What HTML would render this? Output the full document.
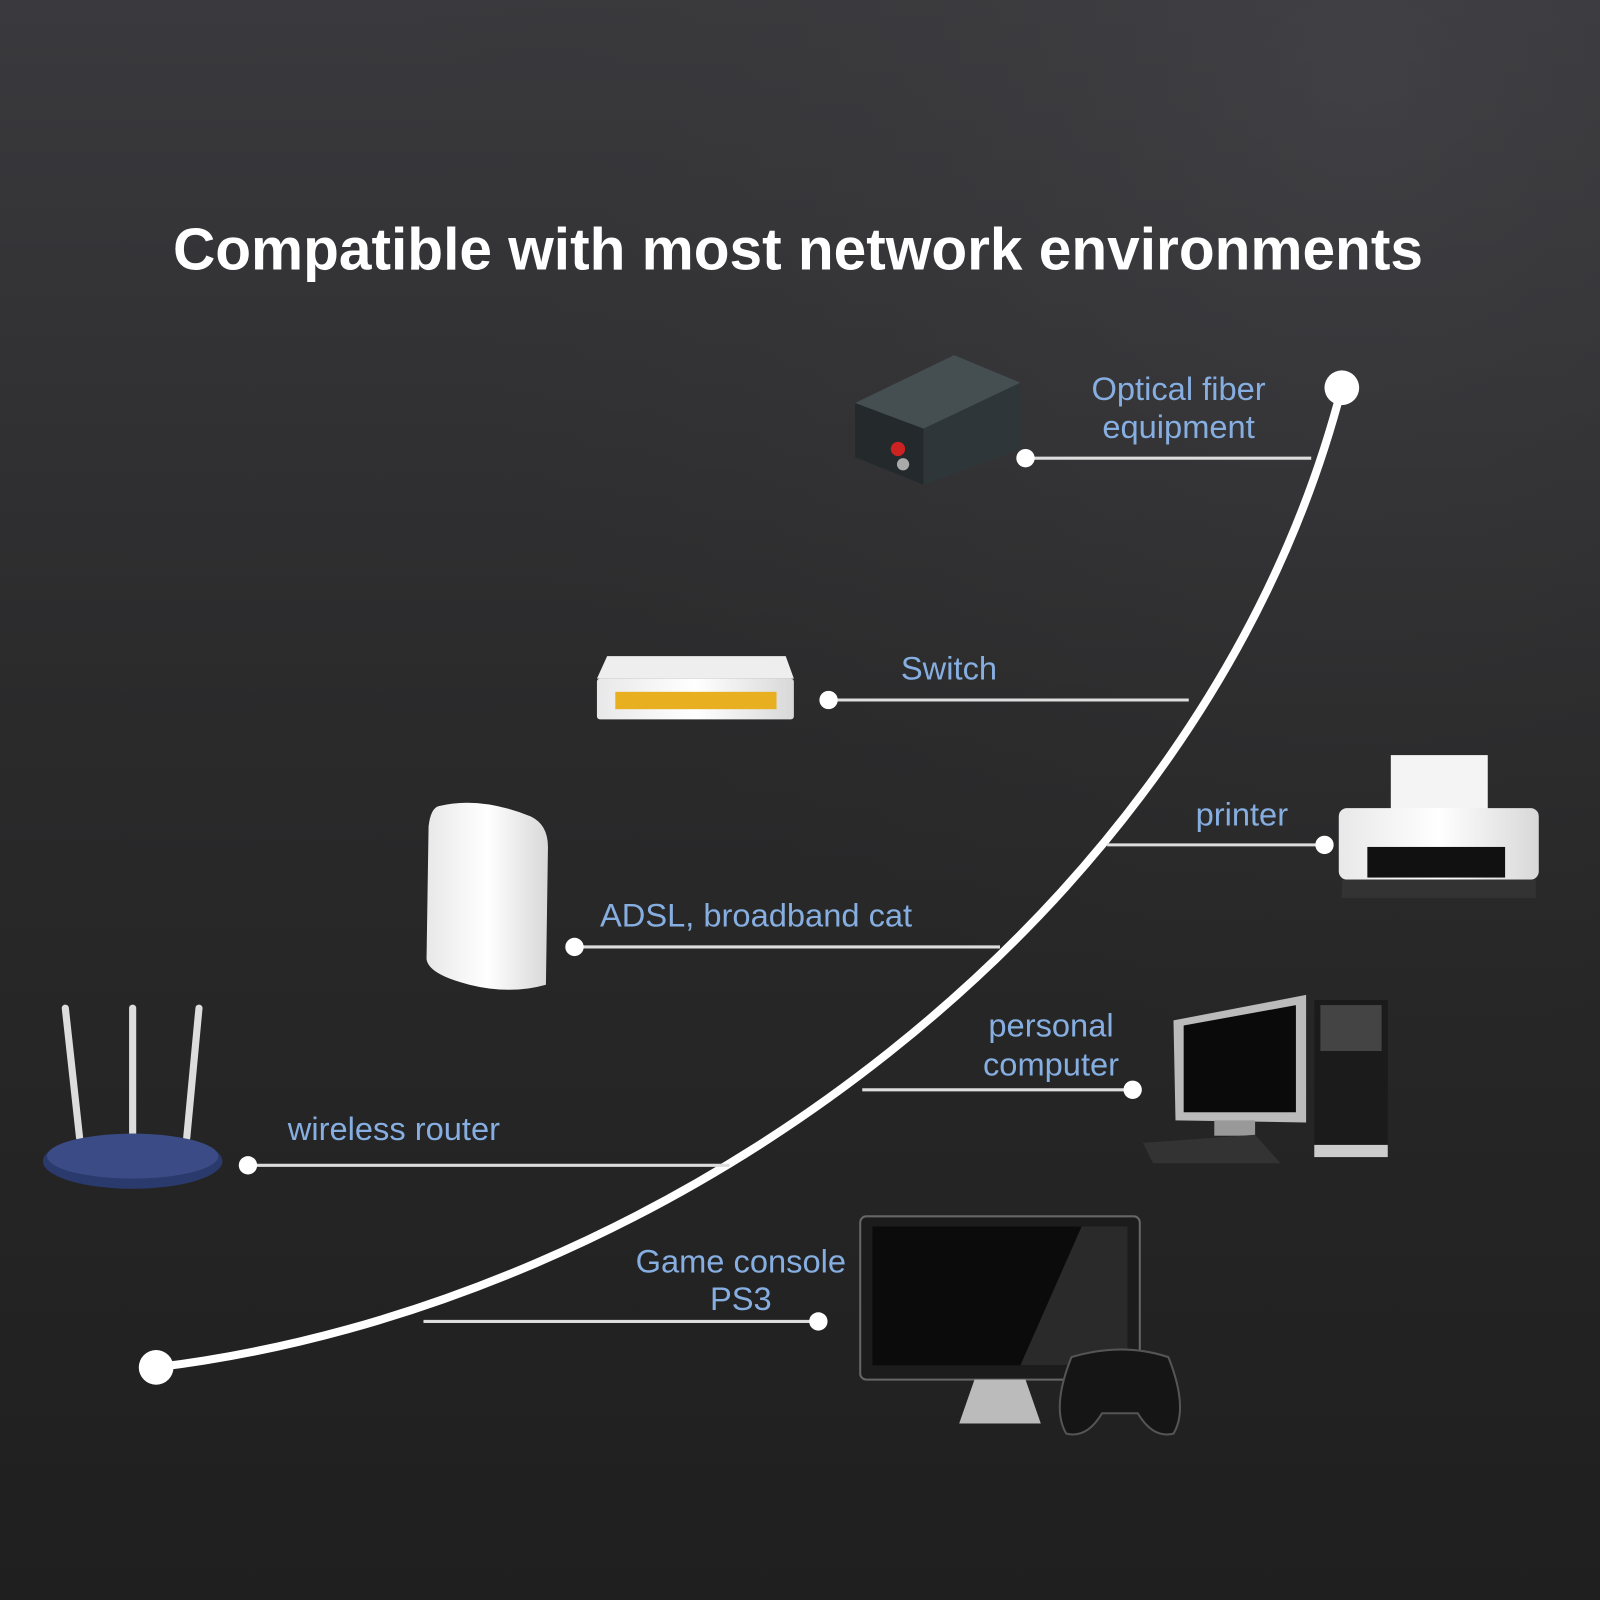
<!DOCTYPE html>
<html><head><meta charset="utf-8"><style>
html,body{margin:0;padding:0;background:#222;}
svg{display:block}
</style></head><body>
<svg width="1600" height="1600" viewBox="0 0 1568 1568" xmlns="http://www.w3.org/2000/svg">
<defs>
<linearGradient id="bg" x1="0" y1="0" x2="0" y2="1">
<stop offset="0" stop-color="#3a3a3e"/><stop offset="0.45" stop-color="#2a2a2b"/><stop offset="1" stop-color="#1f1f1f"/>
</linearGradient>
<radialGradient id="rg" cx="0.85" cy="0.05" r="0.6"><stop offset="0" stop-color="#45454a" stop-opacity="0.6"/><stop offset="1" stop-color="#333" stop-opacity="0"/></radialGradient>
<linearGradient id="wh" x1="0" y1="0" x2="1" y2="0"><stop offset="0" stop-color="#e8e8e8"/><stop offset="0.5" stop-color="#fff"/><stop offset="1" stop-color="#d8d8d8"/></linearGradient>
</defs>
<rect width="1568" height="1568" fill="url(#bg)"/>
<rect width="1568" height="1568" fill="url(#rg)"/>
<text x="782" y="264" text-anchor="middle" font-family="Liberation Sans, sans-serif" font-weight="bold" font-size="58" fill="#fff" textLength="1225" lengthAdjust="spacingAndGlyphs">Compatible with most network environments</text>

<path d="M153,1340 C 650,1280 1180,900 1315,380" fill="none" stroke="#fff" stroke-width="8" stroke-linecap="round"/>
<circle cx="153" cy="1340" r="17" fill="#fff"/>
<circle cx="1315" cy="380" r="17" fill="#fff"/>

<g stroke="#ddd" stroke-width="3">
<line x1="1005" y1="449" x2="1285" y2="449"/>
<line x1="812" y1="686" x2="1165" y2="686"/>
<line x1="1085" y1="828" x2="1298" y2="828"/>
<line x1="563" y1="928" x2="980" y2="928"/>
<line x1="845" y1="1068" x2="1110" y2="1068"/>
<line x1="243" y1="1142" x2="715" y2="1142"/>
<line x1="415" y1="1295" x2="802" y2="1295"/>
</g>
<g fill="#fff">
<circle cx="1005" cy="449" r="9"/><circle cx="812" cy="686" r="9"/><circle cx="1298" cy="828" r="9"/>
<circle cx="563" cy="928" r="9"/><circle cx="1110" cy="1068" r="9"/><circle cx="243" cy="1142" r="9"/><circle cx="802" cy="1295" r="9"/>
</g>

<g font-family="Liberation Sans, sans-serif" font-size="32" fill="#86aee0">
<text x="1155" y="392" text-anchor="middle">Optical fiber</text>
<text x="1155" y="429" text-anchor="middle">equipment</text>
<text x="930" y="666" text-anchor="middle">Switch</text>
<text x="1217" y="809" text-anchor="middle">printer</text>
<text x="588" y="908">ADSL, broadband cat</text>
<text x="1030" y="1016" text-anchor="middle">personal</text>
<text x="1030" y="1054" text-anchor="middle">computer</text>
<text x="282" y="1117">wireless router</text>
<text x="726" y="1247" text-anchor="middle">Game console</text>
<text x="726" y="1284" text-anchor="middle">PS3</text>
</g>

<!-- fiber box -->
<polygon points="838,395 935,348 1000,375 1000,440 905,475 838,448" fill="#2e3639"/>
<polygon points="838,395 935,348 1000,375 905,420" fill="#454f52"/>
<polygon points="838,395 905,420 905,475 838,448" fill="#242a2c"/>
<circle cx="880" cy="440" r="7" fill="#c22"/><circle cx="885" cy="455" r="6" fill="#aaa"/>

<!-- switch -->
<polygon points="595,643 770,643 778,665 585,665" fill="#eee"/>
<rect x="585" y="665" width="193" height="40" rx="3" fill="url(#wh)"/>
<rect x="603" y="678" width="158" height="17" fill="#e8b020"/>

<!-- ADSL -->
<path d="M430,790 Q470,780 520,800 Q537,808 537,830 L535,965 Q500,975 460,965 Q420,955 418,940 L420,810 Q422,792 430,790Z" fill="url(#wh)"/>

<!-- router -->
<g stroke="#ddd" stroke-width="7" stroke-linecap="round">
<line x1="64" y1="988" x2="78" y2="1115"/><line x1="130" y1="988" x2="130" y2="1115"/><line x1="195" y1="988" x2="183" y2="1115"/>
</g>
<ellipse cx="130" cy="1138" rx="88" ry="27" fill="#2b3a6c"/>
<ellipse cx="130" cy="1133" rx="84" ry="22" fill="#3a4b85"/>

<!-- printer -->
<rect x="1363" y="740" width="95" height="60" fill="#f4f4f4"/>
<rect x="1312" y="792" width="196" height="70" rx="8" fill="url(#wh)"/>
<rect x="1340" y="830" width="135" height="30" fill="#111"/>
<rect x="1315" y="862" width="190" height="18" fill="#333"/>

<!-- PC -->
<polygon points="1150,1000 1280,975 1280,1100 1152,1098" fill="#bbb"/>
<polygon points="1160,1005 1270,985 1270,1090 1160,1090" fill="#0a0a0a"/>
<rect x="1190" y="1098" width="40" height="15" fill="#999"/>
<polygon points="1120,1120 1230,1112 1255,1140 1130,1140" fill="#333"/>
<rect x="1288" y="980" width="72" height="155" fill="#1b1b1b"/>
<rect x="1294" y="985" width="60" height="45" fill="#444"/>
<rect x="1288" y="1122" width="72" height="12" fill="#ccc"/>

<!-- game console -->
<rect x="843" y="1192" width="274" height="160" rx="6" fill="#1c1c1c" stroke="#666" stroke-width="2"/>
<rect x="855" y="1202" width="250" height="136" fill="#0b0b0b"/>
<polygon points="1060,1202 1105,1202 1105,1338 1000,1338" fill="#2a2a2a"/>
<polygon points="955,1352 1005,1352 1020,1395 940,1395" fill="#bbb"/>
<path d="M1050,1330 Q1100,1315 1145,1330 Q1165,1380 1150,1405 Q1130,1410 1115,1385 L1080,1385 Q1065,1410 1045,1405 Q1030,1380 1050,1330Z" fill="#151515" stroke="#555" stroke-width="2"/>
</svg>
</body></html>
